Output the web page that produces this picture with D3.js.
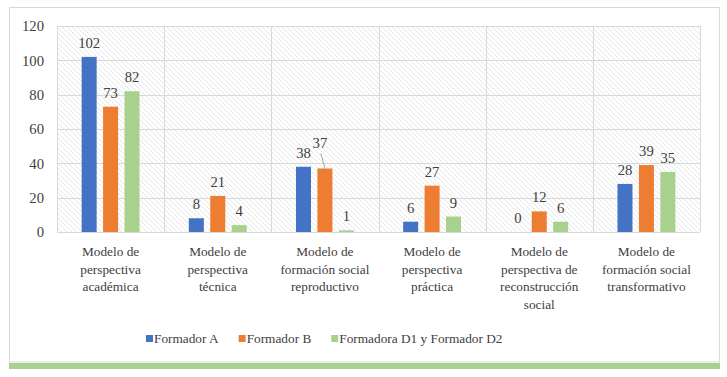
<!DOCTYPE html>
<html>
<head>
<meta charset="utf-8">
<script src="https://cdn.jsdelivr.net/npm/d3@7"></script>
<style>
  body { margin: 0; background: #fff; }
</style>
</head>
<body>
<svg id="chart" width="727" height="377"></svg>
<script>
// categories (each one wrapped onto lines like the original)
var categories = [
  ["Modelo de", "perspectiva", "académica"],
  ["Modelo de", "perspectiva", "técnica"],
  ["Modelo de", "formación social", "reproductivo"],
  ["Modelo de", "perspectiva", "práctica"],
  ["Modelo de", "perspectiva de", "reconstrucción", "social"],
  ["Modelo de", "formación social", "transformativo"]
];
var seriesNames = ["Formador A", "Formador B", "Formadora D1 y Formador D2"];
var formadorA = [102, 8, 38, 6, 0, 28];
var formadorB = [73, 21, 37, 27, 12, 39];
var formadorD = [82, 4, 1, 9, 6, 35];
var yTicks = [0, 20, 40, 60, 80, 100, 120];
var colors = ["#4472c4", "#ed7d31", "#a9d18e"];

var FONT = "Liberation Serif, DejaVu Serif, Noto Serif, Times, serif";
var svg = d3.select("#chart").attr("font-family", FONT);
var series = [formadorA, formadorB, formadorD];

var plotL = 57, plotR = 700, plotT = 26, plotB = 232;

// frame + green band under it
svg.append("rect").attr("x", 9.5).attr("y", 7.5).attr("width", 710).attr("height", 354.5)
    .attr("fill", "#fff").attr("stroke", "#d9d9d9").attr("stroke-width", 1);
svg.append("rect").attr("x", 9).attr("y", 363).attr("width", 711).attr("height", 6)
    .attr("fill", "#a9d18e");

// hatch pattern for plot background
var defs = svg.append("defs");
var pat = defs.append("pattern").attr("id", "hatch")
    .attr("patternUnits", "userSpaceOnUse").attr("width", 5).attr("height", 5);
pat.append("path")
    .attr("d", "M0,0 L5,5 M-1,4 L1,6 M4,-1 L6,1")
    .attr("stroke", "#dadada").attr("stroke-width", 0.7);

var x = d3.scaleBand().domain(d3.range(categories.length)).range([plotL, plotR]).padding(0);
var xs = d3.scaleBand().domain(d3.range(series.length)).range([0, x.bandwidth()])
    .paddingInner(0.3).paddingOuter(1.15);
var y = d3.scaleLinear().domain([0, 120]).range([plotB, plotT]);

svg.append("rect").attr("x", plotL).attr("y", plotT)
    .attr("width", plotR - plotL).attr("height", plotB - plotT)
    .attr("fill", "url(#hatch)");

// horizontal gridlines
svg.append("g").selectAll("line").data(yTicks).enter().append("line")
    .attr("x1", plotL).attr("x2", plotR)
    .attr("y1", function (d) { return Math.round(y(d)) + 0.5; })
    .attr("y2", function (d) { return Math.round(y(d)) + 0.5; })
    .attr("stroke", "#d9d9d9").attr("stroke-width", 1);

// vertical gridlines at category boundaries
var bounds = d3.range(categories.length + 1).map(function (i) {
  return i < categories.length ? x(i) : plotR;
});
svg.append("g").selectAll("line").data(bounds).enter().append("line")
    .attr("x1", function (d) { return Math.round(d) + 0.5; })
    .attr("x2", function (d) { return Math.round(d) + 0.5; })
    .attr("y1", plotT).attr("y2", plotB)
    .attr("stroke", "#d9d9d9").attr("stroke-width", 1);

// y axis labels
var yAxis = d3.axisLeft(y).tickValues(yTicks).tickSize(0).tickPadding(13);
var ya = svg.append("g").attr("transform", "translate(" + plotL + ",0)").call(yAxis)
    .attr("font-family", FONT).attr("font-size", 14.7);
ya.select(".domain").remove();
ya.selectAll("text").attr("fill", "#404040");

// bars
var groups = svg.append("g").selectAll("g").data(series).enter().append("g")
    .attr("fill", function (d, i) { return colors[i]; });

groups.each(function (vals, si) {
  var g = d3.select(this);
  g.selectAll("rect").data(vals).enter().append("rect")
      .attr("x", function (d, ci) { return x(ci) + xs(si); })
      .attr("y", function (d) { return y(d); })
      .attr("width", xs.bandwidth())
      .attr("height", function (d) { return y(0) - y(d); });

  g.selectAll("text").data(vals).enter().append("text")
      .attr("x", function (d, ci) {
        var cx = x(ci) + xs(si) + xs.bandwidth() / 2;
        if (si === 1 && ci === 2) cx -= 5;   // label moved off, has leader line
        return cx;
      })
      .attr("y", function (d, ci) {
        if (si === 1 && ci === 2) return y(d) - 20;
        return y(d) - 9;
      })
      .attr("text-anchor", "middle")
      .attr("font-size", 14.7)
      .attr("fill", "#404040")
      .text(function (d) { return d; });
});

// leader line for the moved label (Formador B, third category)
var lx = x(2) + xs(1) + xs.bandwidth() / 2;
svg.append("line")
    .attr("x1", lx).attr("y1", y(formadorB[2]))
    .attr("x2", lx - 4).attr("y2", y(formadorB[2]) - 15)
    .attr("stroke", "#a6a6a6").attr("stroke-width", 1);

// category labels
var cl = svg.append("g").selectAll("text").data(categories).enter().append("text")
    .attr("text-anchor", "middle")
    .attr("font-size", 13.3)
    .attr("fill", "#404040");
cl.each(function (lines, ci) {
  var t = d3.select(this);
  lines.forEach(function (ln, li) {
    t.append("tspan")
        .attr("x", x(ci) + x.bandwidth() / 2)
        .attr("y", 256 + li * 17.5)
        .text(ln);
  });
});

// legend
var legend = svg.append("g");
var lxPos = 146;
seriesNames.forEach(function (name, i) {
  legend.append("rect").attr("x", lxPos).attr("y", 335)
      .attr("width", 7).attr("height", 7).attr("fill", colors[i]);
  var tx = legend.append("text").attr("x", lxPos + 8).attr("y", 343)
      .attr("font-size", 13.3)
      .attr("fill", "#404040").text(name);
  lxPos += 8 + tx.node().getComputedTextLength() + 20;
});
</script>
</body>
</html>
